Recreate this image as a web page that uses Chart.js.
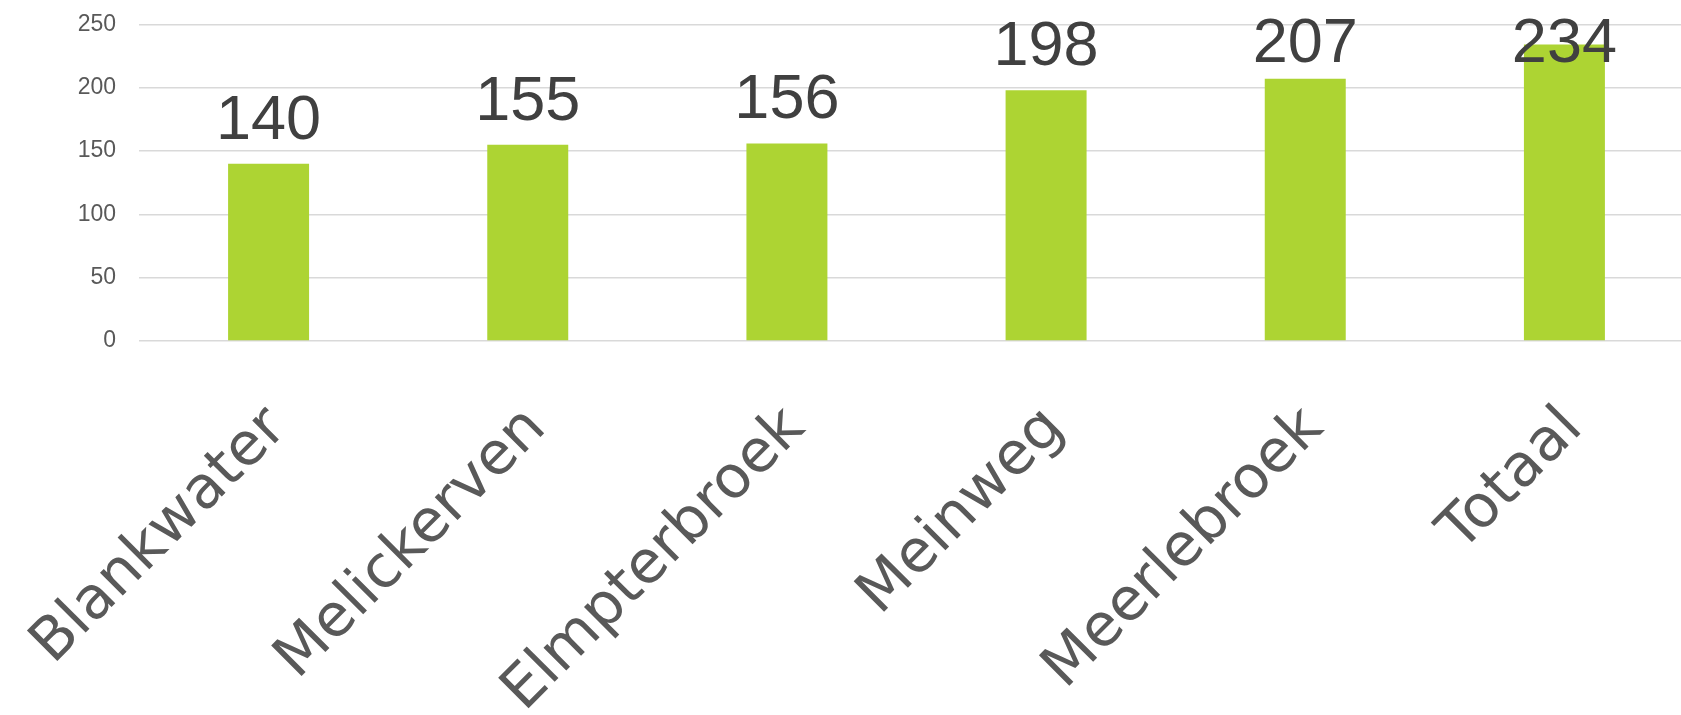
<!DOCTYPE html>
<html>
<head>
<meta charset="utf-8">
<script src="https://cdn.jsdelivr.net/npm/chart.js@4.4.1/dist/chart.umd.min.js"></script>
<style>
  html, body { margin: 0; padding: 0; background: #ffffff; overflow: hidden; }
  #wrap { width: 1694px; height: 715px; }
</style>
</head>
<body>
<div id="wrap"><canvas id="c" width="1694" height="715"></canvas></div>
<script>
const categories = ["Blankwater", "Melickerven", "Elmpterbroek", "Meinweg", "Meerlebroek", "Totaal"];
const values = [140, 155, 156, 198, 207, 234];
const yTicks = [0, 50, 100, 150, 200, 250];

const barColor = "#ADD433";

const dataLabelPlugin = {
  id: "dataLabels",
  afterDatasetsDraw(chart) {
    const ctx = chart.ctx;
    const meta = chart.getDatasetMeta(0);
    const fontSize = 63;
    const digitH = fontSize * 0.716;
    ctx.save();
    ctx.font = fontSize + "px 'Liberation Sans', Arial, sans-serif";
    ctx.fillStyle = "#404040";
    ctx.textAlign = "center";
    ctx.textBaseline = "alphabetic";
    meta.data.forEach((bar, i) => {
      let base = bar.y - 25;
      const minBase = 17 + digitH;
      if (base < minBase) base = minBase;
      ctx.fillText(String(values[i]), bar.x, base);
    });
    ctx.restore();
  }
};

function zeroPad(scale) {
  scale.paddingLeft = 0;
  scale.paddingRight = 0;
  scale.paddingTop = 0;
  scale.paddingBottom = 0;
}

new Chart(document.getElementById("c"), {
  type: "bar",
  data: {
    labels: categories,
    datasets: [{
      data: values,
      backgroundColor: barColor,
      borderWidth: 0,
      barPercentage: 0.3125,
      categoryPercentage: 1.0
    }]
  },
  options: {
    responsive: false,
    devicePixelRatio: 1,
    animation: false,
    layout: { padding: { top: 24.3, left: 0, right: 0, bottom: 0 } },
    plugins: {
      legend: { display: false },
      tooltip: { enabled: false }
    },
    scales: {
      x: {
        grid: { display: false, drawTicks: false },
        border: { display: false },
        ticks: {
          autoSkip: false,
          maxRotation: 45,
          minRotation: 45,
          padding: 53,
          labelOffset: 9,
          color: "#595959",
          font: { family: "'DejaVu Sans', sans-serif", size: 59 }
        },
        afterFit(scale) { scale.height = 374; zeroPad(scale); }
      },
      y: {
        min: 0,
        max: 250,
        afterBuildTicks(scale) { scale.ticks = yTicks.map(v => ({ value: v })); },
        grid: { color: "#D9D9D9", lineWidth: 1.6, drawTicks: false },
        border: { display: false },
        ticks: {
          padding: 23,
          color: "#595959",
          font: { family: "'Liberation Sans', Arial, sans-serif", size: 23 }
        },
        afterFit(scale) { scale.width = 139; zeroPad(scale); }
      }
    }
  },
  plugins: [dataLabelPlugin]
});
</script>
</body>
</html>
